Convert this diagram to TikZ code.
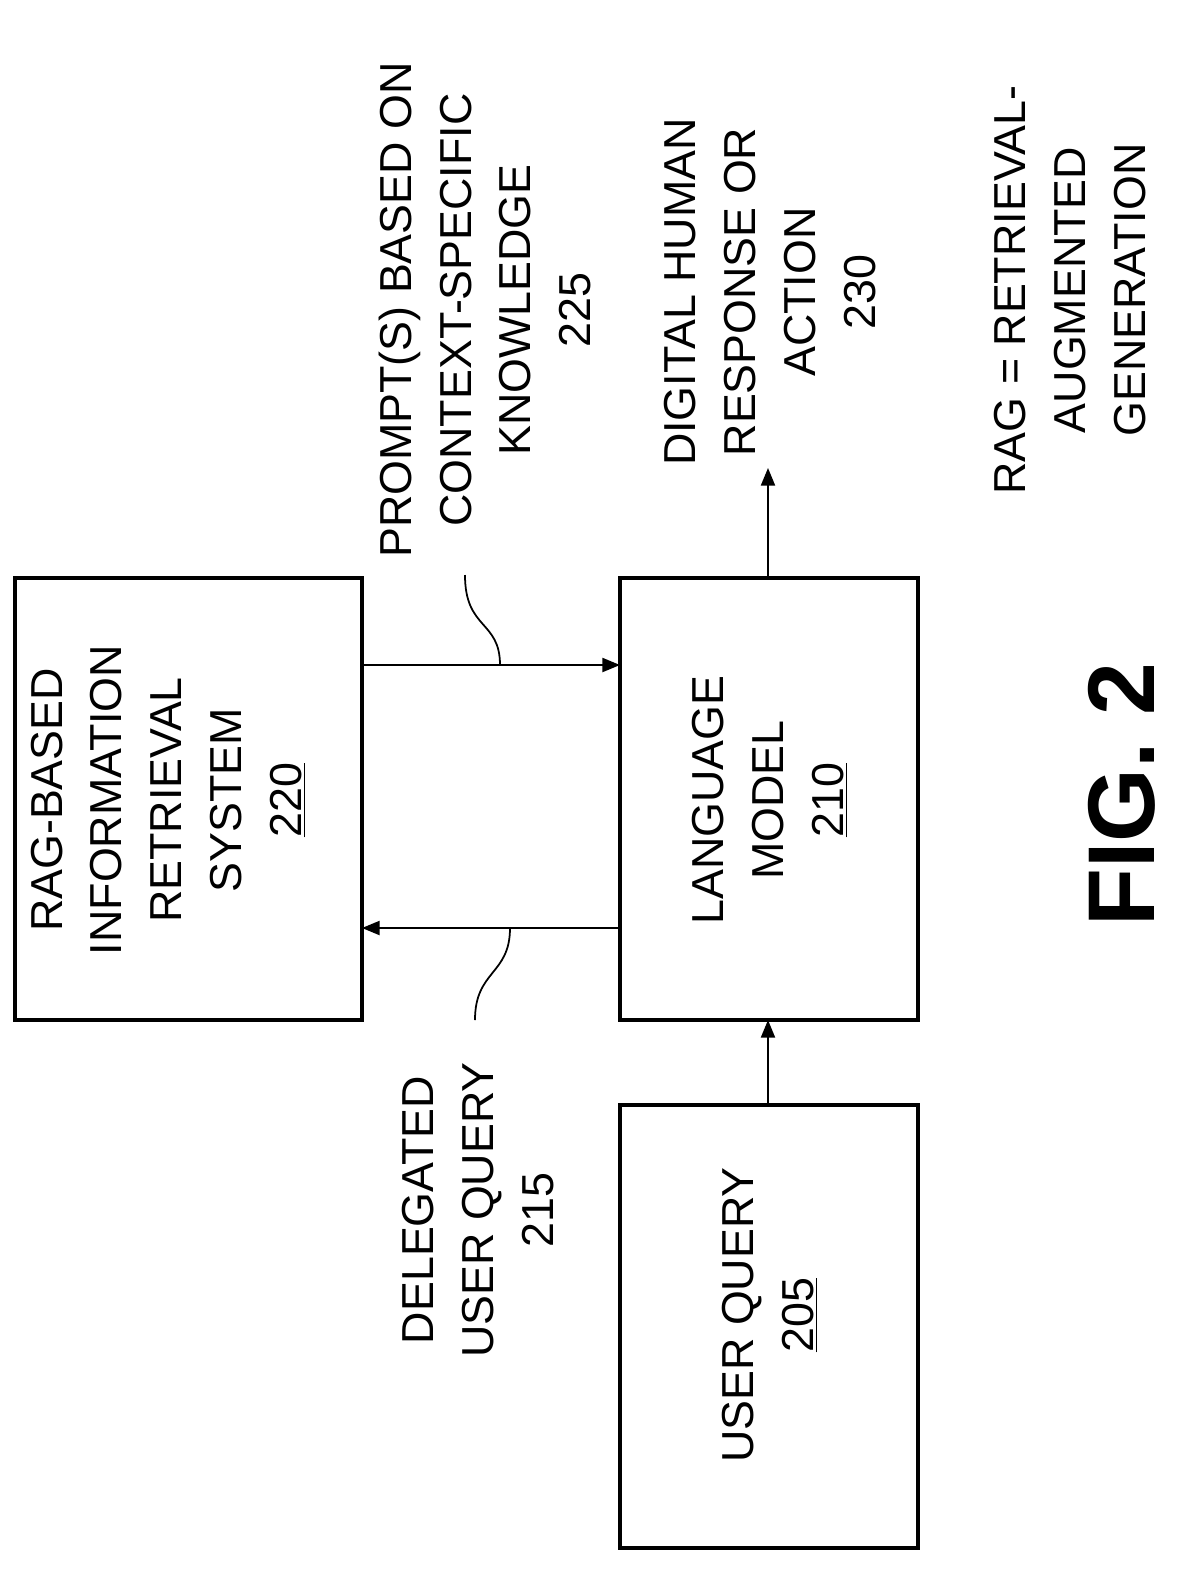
\documentclass[tikz,border=0pt]{standalone}
\usepackage{fontspec}
\setmainfont{Liberation Sans}
\usetikzlibrary{arrows.meta}
\begin{document}
\begin{tikzpicture}[x=0.02cm,y=-0.02cm,
  box/.style={draw,line width=2.4pt},
  txt/.style={rotate=90,align=center,font=\fontsize{25.5}{34}\selectfont,inner sep=0pt},
  arr/.style={line width=1pt,-{Triangle[length=10pt,width=8pt]}},
  lead/.style={line width=1pt}]
\useasboundingbox (0,0) rectangle (1180,1573);
\draw[box] (15,578) rectangle (362,1020);
\draw[box] (620,578) rectangle (918,1020);
\draw[box] (620,1105) rectangle (918,1548);
\node[txt] (rag) at (168,800) {RAG-BASED\\INFORMATION\\RETRIEVAL\\SYSTEM\\\underline{220}};
\node[txt] (lm) at (770,800) {LANGUAGE\\MODEL\\\underline{210}};
\node[txt] (uq) at (770,1315) {USER QUERY\\\underline{205}};
\coordinate (ragR1) at (362,665); \coordinate (lmL1) at (620,665);
\coordinate (ragR2) at (362,928); \coordinate (lmL2) at (620,928);
\coordinate (uqT) at (768,1105); \coordinate (lmB) at (768,1020);
\coordinate (lmT) at (768,578); \coordinate (out) at (768,468);
\draw[arr] (ragR1) -- (lmL1);
\draw[arr] (lmL2) -- (ragR2);
\draw[arr] (uqT) -- (lmB);
\draw[arr] (lmT) -- (out);
\coordinate (c1) at (500,665); \coordinate (c2) at (465,575);
\draw[lead] (c1) .. controls (500,620) and (465,630) .. (c2);
\coordinate (d1) at (510,928); \coordinate (d2) at (475,1020);
\draw[lead] (d1) .. controls (510,975) and (475,970) .. (d2);
\node[txt] (p225) at (485,310) {PROMPT(S) BASED ON\\CONTEXT-SPECIFIC\\KNOWLEDGE\\225};
\node[txt] (d215) at (478,1210) {DELEGATED\\USER QUERY\\215};
\node[txt] (r230) at (770,292) {DIGITAL HUMAN\\RESPONSE OR\\ACTION\\230};
\node[txt] (leg) at (1070,290) {RAG = RETRIEVAL-\\AUGMENTED\\GENERATION};
\node[rotate=90,inner sep=0pt,font=\fontsize{54}{60}\selectfont\bfseries] (fig) at (1122,795) {FIG. 2};
\end{tikzpicture}
\end{document}
